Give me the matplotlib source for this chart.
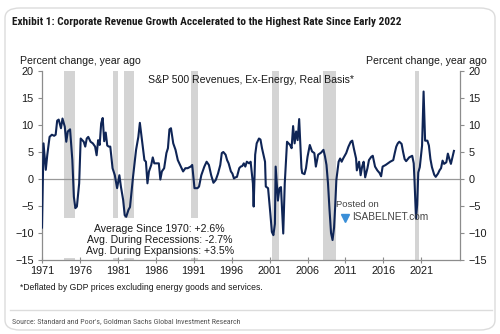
import matplotlib
matplotlib.use("Agg")
import matplotlib.pyplot as plt
from matplotlib.patches import Rectangle, FancyBboxPatch
from matplotlib.lines import Line2D
from matplotlib import font_manager

# ---- data ----
dates = [1971.0, 1971.2, 1971.5, 1971.7, 1972.0, 1972.3, 1972.6, 1972.8, 1973.0, 1973.2,
         1973.5, 1973.7, 1974.0, 1974.2, 1974.4, 1974.7, 1975.0, 1975.2, 1975.4, 1975.6,
         1975.9, 1976.1, 1976.5, 1976.7, 1976.9, 1977.1, 1977.4, 1977.7, 1978.0, 1978.2,
         1978.4, 1978.6, 1978.8, 1979.0, 1979.2, 1979.4, 1979.6, 1979.8, 1980.0, 1980.3,
         1980.6, 1980.9, 1981.2, 1981.4, 1981.7, 1981.9, 1982.1, 1982.4, 1982.6, 1983.0,
         1983.4, 1983.7, 1983.9, 1984.2, 1984.5, 1984.7, 1984.9, 1985.1, 1985.4, 1985.6,
         1985.8, 1986.2, 1986.4, 1986.6, 1986.8, 1987.1, 1987.4, 1987.6, 1987.8, 1988.0,
         1988.3, 1988.6, 1988.9, 1989.2, 1989.6, 1989.9, 1990.2, 1990.6, 1990.8, 1991.1,
         1991.5, 1991.7, 1992.0, 1992.4, 1992.7, 1993.0, 1993.3, 1993.6, 1993.9, 1994.2,
         1994.5, 1994.7, 1994.9, 1995.2, 1995.4, 1995.6, 1995.9, 1996.1, 1996.3, 1996.5,
         1996.7, 1997.0, 1997.2, 1997.4, 1997.6, 1997.8, 1998.0, 1998.3, 1998.5, 1998.8,
         1998.9, 1999.1, 1999.3, 1999.6, 1999.8, 2000.0, 2000.4, 2000.5, 2000.8, 2001.1,
         2001.3, 2001.5, 2001.7, 2001.8, 2002.1, 2002.3, 2002.5, 2002.8, 2003.0, 2003.3,
         2003.7, 2003.9, 2004.1, 2004.3, 2004.5, 2004.7, 2004.9, 2005.2, 2005.3, 2005.6,
         2005.8, 2006.0, 2006.3, 2006.6, 2006.9, 2007.1, 2007.4, 2007.8, 2008.1, 2008.3,
         2008.5, 2008.7, 2008.9, 2009.1, 2009.3, 2009.5, 2009.65, 2009.8, 2010.1, 2010.3,
         2010.5, 2010.7, 2011.1, 2011.4, 2011.7, 2011.9, 2012.1, 2012.4, 2012.5, 2012.8,
         2013.0, 2013.2, 2013.4, 2013.6, 2013.9, 2014.1, 2014.4, 2014.6, 2014.9, 2015.2,
         2015.5, 2015.7, 2015.9, 2016.3, 2016.6, 2016.9, 2017.3, 2017.5, 2017.7, 2017.9,
         2018.1, 2018.4, 2018.6, 2018.8, 2019.0, 2019.4, 2019.8, 2020.0, 2020.1, 2020.3,
         2020.45, 2020.6, 2020.8, 2021.1, 2021.3, 2021.5, 2021.8, 2022.0, 2022.2, 2022.4,
         2022.7, 2022.9, 2023.2, 2023.4, 2023.6, 2023.8, 2024.0, 2024.3, 2024.5, 2024.7,
         2024.9, 2025.3]
values = [-9.0, 6.6, 1.7, 4.5, 7.8, 8.2, 8.0, 8.2, 10.8, 11.0,
          9.4, 11.2, 9.7, 6.9, 8.8, 9.2, 3.5, -3.3, -5.4, -5.1,
          -0.8, 7.5, 6.9, 6.0, 7.5, 7.8, 6.9, 6.6, 6.0, 4.4,
          7.2, 6.3, 10.3, 11.3, 7.0, 8.6, 6.2, 6.0, 6.0, 2.0,
          0.7, -1.7, 0.7, -1.4, -3.9, -6.7, -7.0, -5.7, -5.2, 0.4,
          5.4, 7.8, 10.4, 6.9, 3.5, 3.2, -0.8, 1.4, 2.6, 4.0,
          2.9, 2.9, 2.9, -0.1, 1.4, 2.0, 4.8, 5.7, 9.2, 9.4,
          6.6, 5.4, 3.5, 2.6, 1.4, 2.0, 2.0, 2.3, 2.6, -1.7,
          -1.7, -1.4, 0.7, 2.3, 3.2, 2.6, 0.7, -0.7, -0.2, 1.0,
          2.6, 4.8, 5.0, 4.5, 3.5, 2.9, 1.4, 1.0, 0.1, 0.3,
          0.4, 2.0, 2.3, 2.4, 2.9, 2.3, 3.2, 2.9, 3.2, -0.8,
          -5.1, 4.5, 6.6, 7.5, 7.3, 5.7, 3.2, -1.4, -1.7, -6.4,
          -9.8, -10.4, -8.3, 2.3, -4.0, -1.7, -1.5, -10.1, -0.8, 6.9,
          6.3, 5.7, 9.8, 6.6, 8.8, 7.2, 11.1, 2.0, 1.1, 0.9,
          2.0, 4.1, 6.3, 5.1, 4.8, 2.3, 4.5, 4.9, 5.4, 4.2,
          2.6, -0.8, -5.7, -10.0, -11.3, -9.0, -5.0, -0.2, 3.2, 3.8,
          3.2, 3.8, 4.8, 6.0, 6.9, 7.1, 5.7, 3.8, 1.6, 3.2,
          0.7, 2.3, 3.2, 0.3, 2.0, 3.5, 4.1, 4.3, 2.3, 1.6,
          1.1, 0.5, 2.3, 2.6, 2.9, 3.2, 3.5, 4.8, 6.0, 6.6,
          6.9, 6.5, 5.0, 3.7, 3.3, 4.0, 4.3, 2.9, -0.2, -7.3,
          -4.8, 1.2, 2.2, 6.2, 16.2, 7.1, 7.1, 6.2, 3.7, 2.2,
          0.8, 0.4, 1.0, 1.6, 2.0, 3.4, 2.8, 3.1, 4.7, 3.7,
          2.8, 5.2]

recession_start = [1973.9, 1980.3, 1981.8, 1990.7, 2001.3, 2008.1, 2020.2]
recession_end = [1975.4, 1981.0, 1983.1, 1991.5, 2002.2, 2009.8, 2020.7]

x_ticks = [1971, 1976, 1981, 1986, 1991, 1996, 2001, 2006, 2011, 2016, 2021]
y_ticks = [-15, -10, -5, 0, 5, 10, 15, 20]

title = "Exhibit 1: Corporate Revenue Growth Accelerated to the Highest Rate Since Early 2022"
series_label = "S&P 500 Revenues, Ex-Energy, Real Basis*"
axis_label = "Percent change, year ago"
stats_lines = ["Average Since 1970: +2.6%",
               "Avg. During Recessions: -2.7%",
               "Avg. During Expansions: +3.5%"]
footnote = "*Deflated by GDP prices excluding energy goods and services."
source = "Source: Standard and Poor's, Goldman Sachs Global Investment Research"

# pick a narrow family if one is installed
installed = {f.name for f in font_manager.fontManager.ttflist}
narrow = "Liberation Sans"
for cand in ["Liberation Sans Narrow", "Roboto Condensed", "Open Sans Condensed",
             "Noto Sans Condensed", "DejaVu Sans Condensed", "Arial Narrow"]:
    if cand in installed:
        narrow = cand
        break

# ---- figure ----
W, H = 500, 334
fig = plt.figure(figsize=(W / 100, H / 100), dpi=100)
fig.patch.set_facecolor("white")
plt.rcParams['font.family'] = ['Liberation Sans', 'DejaVu Sans']

def fx(px):
    return px / W

def fy(py):
    return 1 - py / H

# outer rounded frame
frame = FancyBboxPatch((fx(5), fy(330)), fx(490), 322 / H,
                       boxstyle="round,pad=0,rounding_size=0.03",
                       transform=fig.transFigure, fill=False,
                       edgecolor="#dcdcdc", linewidth=1.0)
fig.patches.append(frame)

ax = fig.add_axes([fx(42), fy(260), fx(460 - 42), (260 - 71) / H])
ax.set_xlim(1971, 2026.1)
ax.set_ylim(-15, 20)

for s0, e0 in zip(recession_start, recession_end):
    ax.axvspan(s0, e0, color="#d4d4d4", lw=0, zorder=0)

# white box behind the statistics text
ax.add_patch(Rectangle((1973.3, -14.55), 22.5, 7.3, facecolor="white",
                       edgecolor="none", zorder=1))

ax.axhline(0, color="#999999", lw=0.9, zorder=2)
ax.plot(dates, values, color="#0f2556", lw=1.5, zorder=3)

ax.spines["top"].set_visible(False)
for sp in ["left", "right", "bottom"]:
    ax.spines[sp].set_color("#8c8c8c")
    ax.spines[sp].set_linewidth(0.9)

ax.set_xticks(x_ticks)
ax.set_xticklabels([str(v) for v in x_ticks])
ax.set_yticks(y_ticks)
ax.tick_params(axis="x", direction="inout", length=4, width=0.8, colors="#8c8c8c",
               labelcolor="#1a1a1a", labelsize=7.8, pad=2)
ax.tick_params(axis="y", direction="out", length=3, width=0.8, colors="#8c8c8c",
               labelcolor="#1a1a1a", labelsize=7.8, pad=3, left=True, right=True,
               labelright=True)

# texts inside axes
ax.text(0.5, 0.955, series_label, transform=ax.transAxes, ha="center", va="center",
        fontsize=7.6, color="#1a1a1a", zorder=5)
sx = 1986.5
ax.text(sx, -9.2, stats_lines[0], ha="center", va="center", fontsize=7.6,
        color="#1a1a1a", zorder=5)
ax.text(sx, -11.3, stats_lines[1], ha="center", va="center", fontsize=7.6,
        color="#1a1a1a", zorder=5)
ax.text(sx, -13.4, stats_lines[2], ha="center", va="center", fontsize=7.6,
        color="#1a1a1a", zorder=5)

# watermark
ax.text(2009.8, -4.8, "Posted on", ha="left", va="center", fontsize=6.8,
        color="#444444", zorder=5)
ax.text(2011.9, -7.0, "ISABELNET.com", ha="left", va="center", fontsize=7.3,
        color="#444444", zorder=5)
ax.plot([2010.9], [-7.3], marker="v", color="#3a8fd8", markersize=6, zorder=5)

# figure texts
t = fig.text(fx(12), fy(22), title, ha="left", va="center", fontsize=8.5,
             fontweight="bold", family=[narrow, "DejaVu Sans"],
             color="#1a1a1a")
fig.text(fx(20), fy(61), axis_label, ha="left", va="center", fontsize=7.6,
         color="#1a1a1a")
fig.text(fx(487), fy(61), axis_label, ha="right", va="center", fontsize=7.6,
         color="#1a1a1a")
fig.text(fx(20), fy(287), footnote, ha="left", va="center", fontsize=6.2,
         color="#1a1a1a")
fig.lines.append(Line2D([fx(10), fx(492)], [fy(310), fy(310)],
                        transform=fig.transFigure, color="#dcdcdc", lw=1.0))
s = fig.text(fx(12), fy(321), source, ha="left", va="center", fontsize=6.3,
             family=[narrow, "DejaVu Sans"], color="#555555")

# fit texts to their measured widths in the reference
renderer = fig.canvas.get_renderer()
for txt, target in [(t, 385.0), (s, 228.0)]:
    w = txt.get_window_extent(renderer).width
    txt.set_fontsize(txt.get_fontsize() * target / w)

fig.savefig("out.png", dpi=100, facecolor="white")
